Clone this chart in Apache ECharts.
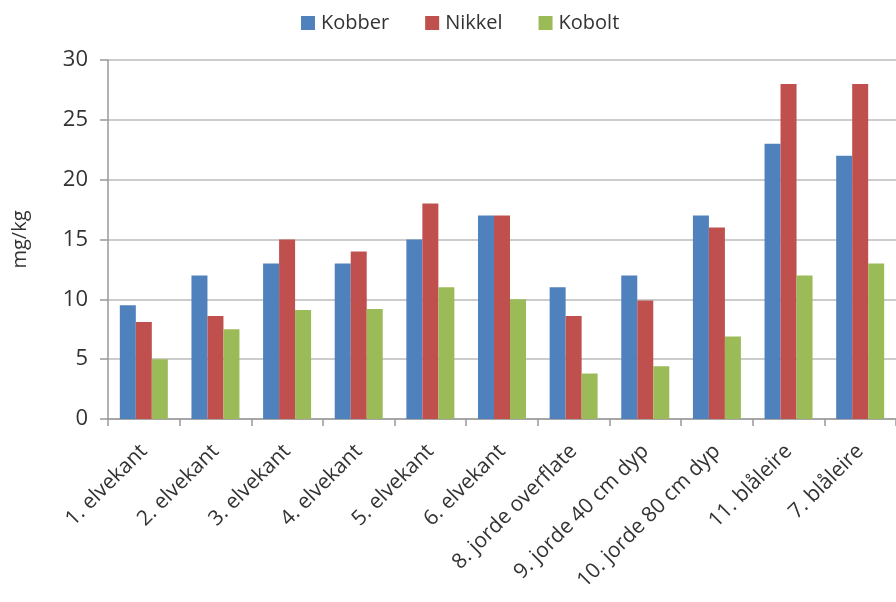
<!DOCTYPE html>
<html>
<head>
<meta charset="utf-8">
<script src="https://cdn.jsdelivr.net/npm/echarts@6/dist/echarts.min.js"></script>
<style>
  html, body { margin: 0; padding: 0; background: #fff; }
  #chart { width: 896px; height: 602px; }
</style>
</head>
<body>
<div id="chart"></div>
<script>
// Kategorier (prøvesteder)
const categories = [
  "1. elvekant", "2. elvekant", "3. elvekant", "4. elvekant", "5. elvekant",
  "6. elvekant", "8. jorde overflate", "9. jorde 40 cm dyp", "10. jorde 80 cm dyp",
  "11. blåleire", "7. blåleire"
];

// Verdier i mg/kg lest av figuren
const kobber = [9.5, 12, 13, 13, 15, 17, 11, 12, 17, 23, 22];
const nikkel = [8.1, 8.6, 15, 14, 18, 17, 8.6, 9.9, 16, 28, 28];
const kobolt = [5, 7.5, 9.1, 9.2, 11, 10, 3.8, 4.4, 6.9, 12, 13];

const yTicks = [0, 5, 10, 15, 20, 25, 30];

const chart = echarts.init(document.getElementById("chart"));

const barSeries = (name, data, color) => ({
  name: name,
  type: "bar",
  data: data,
  barGap: "0%",
  barCategoryGap: "33%",
  itemStyle: { color: color },
  emphasis: { disabled: true }
});

const option = {
  animation: false,
  textStyle: { fontFamily: "'Open Sans', sans-serif" },
  legend: {
    top: 8,
    left: 296,
    itemWidth: 14,
    itemHeight: 14,
    itemGap: 36,
    icon: "rect",
    textStyle: { fontSize: 20, color: "#333", padding: [0, 0, 0, 1] },
    data: ["Kobber", "Nikkel", "Kobolt"]
  },
  grid: {
    left: 108,
    top: 60,
    width: 792,
    height: 359
  },
  xAxis: {
    type: "category",
    data: categories,
    axisLine: { lineStyle: { color: "#999", width: 1.5 } },
    axisTick: { show: true, length: 7, lineStyle: { color: "#999", width: 1.5 } },
    axisLabel: {
      interval: 0,
      rotate: 45,
      fontSize: 21,
      color: "#333",
      margin: 29
    }
  },
  yAxis: {
    type: "value",
    min: yTicks[0],
    max: yTicks[yTicks.length - 1],
    interval: 5,
    name: "mg/kg",
    nameLocation: "middle",
    nameGap: 78,
    nameTextStyle: { fontSize: 20, color: "#333" },
    axisLine: { show: true, lineStyle: { color: "#999", width: 1.5 } },
    axisTick: { show: true, length: 8, lineStyle: { color: "#999", width: 1.5 } },
    axisLabel: { fontSize: 22, color: "#333", margin: 20 },
    splitLine: { lineStyle: { color: "#bbb", width: 1.5 } }
  },
  series: [
    barSeries("Kobber", kobber, "#4F81BD"),
    barSeries("Nikkel", nikkel, "#C0504D"),
    barSeries("Kobolt", kobolt, "#9BBB59")
  ]
};

chart.setOption(option);
</script>
</body>
</html>
